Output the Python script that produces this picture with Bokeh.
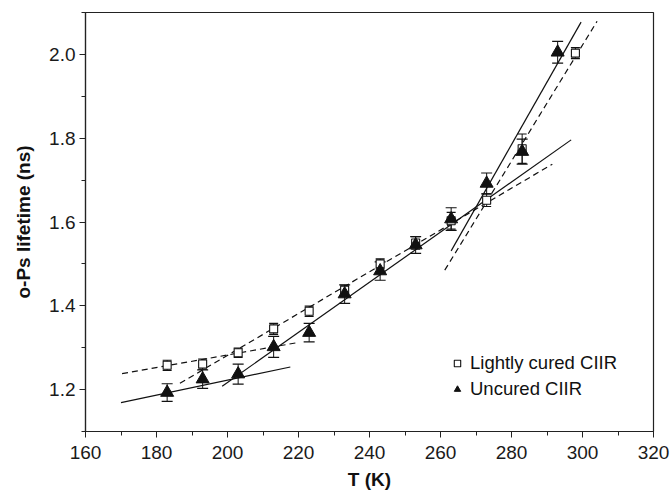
from bokeh.plotting import figure
from bokeh.models import Range1d, SingleIntervalTicker, Legend, LegendItem, LinearAxis, NumeralTickFormatter
from bokeh.embed import file_html
from bokeh.resources import INLINE

# ---- data ----
t_cured = [183, 193, 203, 213, 223, 233, 243, 253, 263, 273, 283, 298]
tau_cured = [1.258, 1.261, 1.288, 1.345, 1.387, 1.437, 1.500, 1.550, 1.603, 1.652, 1.775, 2.003]
err_cured = [0.012, 0.012, 0.011, 0.013, 0.012, 0.012, 0.012, 0.015, 0.020, 0.015, 0.035, 0.013]

t_uncured = [183, 193, 203, 213, 223, 233, 243, 253, 263, 273, 283, 293]
tau_uncured = [1.193, 1.225, 1.237, 1.302, 1.336, 1.428, 1.483, 1.545, 1.607, 1.692, 1.768, 2.005]
err_uncured = [0.021, 0.022, 0.024, 0.025, 0.022, 0.022, 0.022, 0.020, 0.027, 0.025, 0.030, 0.026]

# fitted lines (endpoints)
fit_uncured_x = [[170.0, 217.7], [198.5, 296.8], [263.0, 299.6]]
fit_uncured_y = [[1.169, 1.254], [1.208, 1.796], [1.531, 2.077]]
fit_cured_x = [[170.3, 219.6], [186.6, 291.5], [261.2, 304.1]]
fit_cured_y = [[1.238, 1.312], [1.215, 1.738], [1.485, 2.079]]

FONT = "Liberation Sans"

p = figure(width=672, height=495, output_backend="svg", toolbar_location=None,
           x_range=Range1d(160, 320), y_range=Range1d(1.1, 2.1),
           min_border_left=85, min_border_right=19, min_border_top=12, min_border_bottom=64,
           x_axis_location=None, y_axis_location=None)
p.grid.visible = False
p.outline_line_color = "#222222"
p.outline_line_width = 1.2
p.background_fill_color = "white"
p.border_fill_color = "white"

xax = LinearAxis(ticker=SingleIntervalTicker(interval=20, num_minor_ticks=2),
                 axis_label="T (K)")
yax = LinearAxis(ticker=SingleIntervalTicker(interval=0.2, num_minor_ticks=2),
                 axis_label="o-Ps lifetime (ns)",
                 formatter=NumeralTickFormatter(format="0.0"))
for ax in (xax, yax):
    ax.major_tick_in = 0
    ax.major_tick_out = 6
    ax.minor_tick_in = 0
    ax.minor_tick_out = 4
    ax.axis_line_color = "#222222"
    ax.major_tick_line_color = "#222222"
    ax.minor_tick_line_color = "#222222"
    ax.axis_line_width = 1.2
    ax.major_label_text_font = FONT
    ax.major_label_text_font_size = "19px"
    ax.major_label_text_color = "#1a1a1a"
    ax.axis_label_text_font = FONT
    ax.axis_label_text_font_size = "19px"
    ax.axis_label_text_font_style = "bold"
    ax.axis_label_text_color = "#111111"
xax.major_label_standoff = 8
xax.axis_label_standoff = 7
yax.major_label_standoff = 4
yax.axis_label_standoff = 12
yax.major_label_orientation = "horizontal"
p.add_layout(xax, "below")
p.add_layout(yax, "left")

# fitted lines
p.multi_line(fit_uncured_x, fit_uncured_y, line_color="#111111", line_width=1.2)
p.multi_line(fit_cured_x, fit_cured_y, line_color="#111111", line_width=1.2, line_dash="6 4")

# error bars
def errbars(xs, ys, es, cap):
    y0 = [y - e for y, e in zip(ys, es)]
    y1 = [y + e for y, e in zip(ys, es)]
    p.segment(xs, y0, xs, y1, line_color="#111111", line_width=1)
    p.scatter(xs, y0, marker="dash", size=cap, line_color="#111111", line_width=1.2)
    p.scatter(xs, y1, marker="dash", size=cap, line_color="#111111", line_width=1.2)

errbars(t_cured, tau_cured, err_cured, 9)
errbars(t_uncured, tau_uncured, err_uncured, 11)

r_cured = p.scatter(t_cured, tau_cured, marker="square", size=8, fill_color="white",
                    line_color="#111111", line_width=1.1)
r_uncured = p.scatter(t_uncured, tau_uncured, marker="triangle", size=13,
                      fill_color="#111111", line_color="#111111")

legend = Legend(items=[LegendItem(label="Lightly cured CIIR", renderers=[r_cured]),
                       LegendItem(label="Uncured CIIR", renderers=[r_uncured])],
                location=(364, 31), margin=0, padding=0, spacing=4,
                glyph_width=16, glyph_height=20, label_height=20, label_standoff=5,
                label_text_font=FONT, label_text_font_size="18.5px",
                label_text_color="#111111",
                background_fill_alpha=0, border_line_alpha=0)
p.add_layout(legend, "center")

open("out.html", "w").write(file_html(p, INLINE))
